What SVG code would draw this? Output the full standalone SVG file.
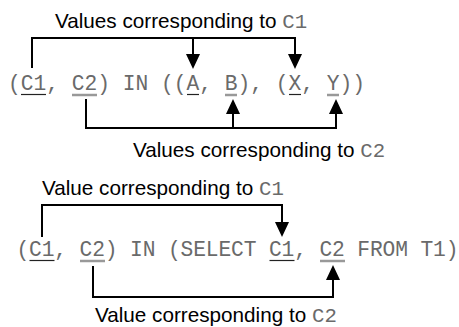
<svg xmlns="http://www.w3.org/2000/svg" width="459" height="327" viewBox="0 0 459 327">
<style>
.lbl{font-family:"Liberation Sans",Arial,sans-serif;font-size:20.7px;fill:#000}
.m{font-family:"Liberation Mono","Courier New",monospace;fill:#6a6a6a}
.code{font-family:"Liberation Mono","Courier New",monospace;font-size:21.25px;fill:#6a6a6a}
.ul1{stroke:#222;stroke-width:1.2}
.ul2{stroke:#999;stroke-width:2.5}
.con{fill:none;stroke:#000;stroke-width:2}
.ah{fill:#000}
</style>
<rect width="459" height="327" fill="#fff"/>
<g id="label1-top"><text class="lbl" x="55" y="28">Values corresponding to <tspan class="m">C1</tspan></text></g>
<g id="code1">
<text class="code" x="8" y="90">(C1, C2) IN ((A, B), (X, Y))</text>
<line class="ul1" x1="21" y1="94.5" x2="46" y2="94.5"/>
<line class="ul2" x1="72" y1="95" x2="97" y2="95"/>
<line class="ul1" x1="187" y1="94.5" x2="199" y2="94.5"/>
<line class="ul2" x1="225" y1="95" x2="237" y2="95"/>
<line class="ul1" x1="289" y1="94.5" x2="301" y2="94.5"/>
<line class="ul2" x1="327" y1="95" x2="339" y2="95"/>
</g>
<g id="label1-bottom"><text class="lbl" x="133" y="157">Values corresponding to <tspan class="m">C2</tspan></text></g>
<g id="label2-top"><text class="lbl" x="42" y="195">Value corresponding to <tspan class="m">C1</tspan></text></g>
<g id="code2">
<text class="code" x="16.5" y="256" textLength="442" lengthAdjust="spacing">(C1, C2) IN (SELECT C1, C2 FROM T1)</text>
<line class="ul1" x1="29.5" y1="260.5" x2="54.5" y2="260.5"/>
<line class="ul2" x1="80" y1="261" x2="105" y2="261"/>
<line class="ul1" x1="269.5" y1="260.5" x2="294.5" y2="260.5"/>
<line class="ul2" x1="320" y1="261" x2="345" y2="261"/>
</g>
<g id="label2-bottom"><text class="lbl" x="95" y="322">Value corresponding to <tspan class="m">C2</tspan></text></g>
<g id="connectors">
<polyline class="con" points="32,68 32,38 295,38 295,56"/>
<line class="con" x1="193" y1="38" x2="193" y2="56"/>
<polygon class="ah" points="186,54 200,54 193,69"/>
<polygon class="ah" points="288,54 302,54 295,69"/>
<polyline class="con" points="86,99 86,128 336,128 336,112"/>
<line class="con" x1="233" y1="128" x2="233" y2="112"/>
<polygon class="ah" points="226,114 240,114 233,99"/>
<polygon class="ah" points="329,114 343,114 336,99"/>
<polyline class="con" points="42,237 42,205 282,205 282,224"/>
<polygon class="ah" points="275,222 289,222 282,237"/>
<polyline class="con" points="93,266 93,297 333,297 333,279"/>
<polygon class="ah" points="326,280 340,280 333,265"/>
</g>
</svg>
